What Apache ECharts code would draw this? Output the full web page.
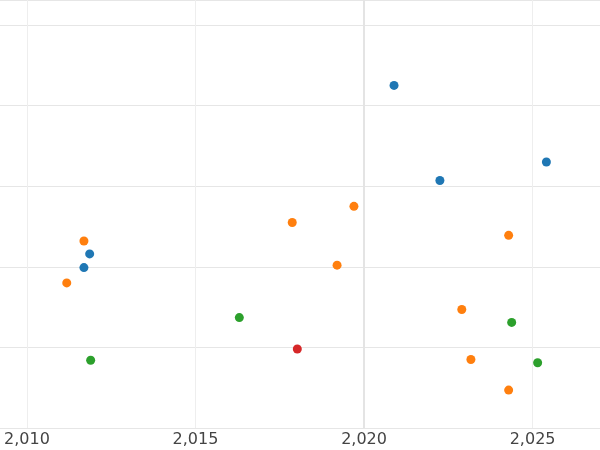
<!DOCTYPE html>
<html>
<head>
<meta charset="UTF-8">
<script src="https://cdn.jsdelivr.net/npm/echarts@6/dist/echarts.min.js"></script>
<style>html,body{margin:0;padding:0;background:#fff}#c{width:600px;height:450px}</style>
</head>
<body>
<div id="c"></div>
<script>
var xTicks = [2010, 2015, 2020, 2025];
var blue = [[2020.89,4.25],[2025.41,3.30],[2022.25,3.07],[2011.86,2.16],[2011.69,1.99]];
var orange = [[2011.69,2.32],[2011.18,1.80],[2017.87,2.55],[2019.70,2.75],[2019.20,2.02],[2024.29,2.39],[2022.90,1.47],[2023.17,0.85],[2024.29,0.47]];
var green = [[2016.30,1.37],[2011.89,0.84],[2024.38,1.31],[2025.15,0.81]];
var red = [[2018.02,0.98]];

var chart = echarts.init(document.getElementById('c'));
function s(data, color) {
  return { type: 'scatter', data: data, symbolSize: 9, itemStyle: { color: color, opacity: 1 } };
}
var series = [s(blue,'#1f77b4'), s(orange,'#ff7f0e'), s(green,'#2ca02c'), s(red,'#d62728')];
series[0].markLine = {
  silent: true, symbol: 'none', label: { show: false },
  lineStyle: { color: '#e4e4e4', width: 2, type: 'solid' },
  data: [{ xAxis: 2020 }]
};
chart.setOption({
  animation: false,
  grid: { left: 0, right: 0, top: 0, bottom: 22 },
  xAxis: {
    type: 'value', min: 2009.2, max: 2027,
    axisLine: { show: false }, axisTick: { show: false, customValues: xTicks },
    axisLabel: { customValues: xTicks, fontSize: 16, color: '#444', fontFamily: 'DejaVu Sans', margin: 4 },
    splitLine: { show: true, lineStyle: { color: '#eeeeee' } }
  },
  yAxis: {
    type: 'value', min: 0, max: 5.31, interval: 1,
    axisLine: { show: false }, axisTick: { show: false }, axisLabel: { show: false },
    splitLine: { lineStyle: { color: '#e6e6e6' } }
  },
  series: series
});
</script>
</body>
</html>
